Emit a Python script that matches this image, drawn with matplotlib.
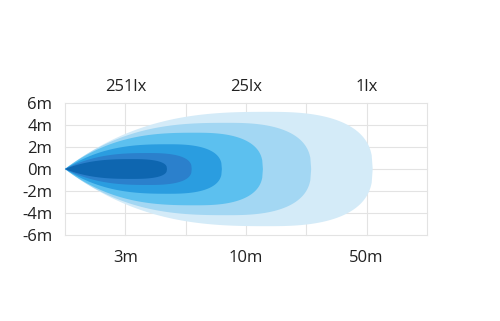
import matplotlib.pyplot as plt
import numpy as np

# beam pattern: lobes from outer (weakest) to inner (strongest)
lobe_reach = [5.1, 4.08, 3.28, 2.6, 2.1, 1.69]   # in grid columns from the lamp
lobe_halfwidth = [5.2, 4.2, 3.3, 2.25, 1.45, 0.9]  # metres
lobe_colors = ["#d4ebf8", "#a3d7f3", "#5cc0ef", "#2a9de0", "#2b80cc", "#0e66b0"]

dist_pos = [1, 3, 5]
dist_labels = ["3m", "10m", "50m"]
lux_labels = ["251lx", "25lx", "1lx"]
y_ticks = [6, 4, 2, 0, -2, -4, -6]


def lobe_outline(reach, halfwidth, a=0.66, n=2.6):
    t = np.linspace(0, 1, 300)
    g = np.where(t < a,
                 1 - np.abs(1 - t / a) ** 2.7,
                 np.clip(1 - ((t - a) / (1 - a)) ** n, 0, 1) ** (1 / n))
    x = t * reach
    y = halfwidth * g
    return np.concatenate([x, x[::-1]]), np.concatenate([y, -y[::-1]])


fig = plt.figure(figsize=(5, 3.21), dpi=100)
ax = fig.add_axes([0.13, 0.268, 0.724, 0.411])

for reach, hw, c in zip(lobe_reach, lobe_halfwidth, lobe_colors):
    xs, ys = lobe_outline(reach, hw)
    ax.fill(xs, ys, color=c, lw=0, zorder=2)

# grid, edges included
for gx in range(7):
    ax.axvline(gx, color="#e3e3e3", lw=0.8, zorder=0, clip_on=False)
for gy in y_ticks:
    ax.axhline(gy, color="#e3e3e3", lw=0.8, zorder=0, clip_on=False)

ax.set_xlim(0, 6)
ax.set_ylim(-6, 6)
ax.set_xticks(dist_pos)
ax.set_xticklabels(dist_labels)
ax.set_yticks(y_ticks)
ax.set_yticklabels([f"{v}m" for v in y_ticks])
for s in ax.spines.values():
    s.set_visible(False)
ax.tick_params(length=0, labelsize=12, colors="#222222")
ax.tick_params(axis="x", pad=11)
ax.tick_params(axis="y", pad=9)
for lab in ax.get_xticklabels() + ax.get_yticklabels():
    lab.set_family("Open Sans")

top = ax.secondary_xaxis("top")
top.set_xticks(dist_pos)
top.set_xticklabels(lux_labels)
top.tick_params(length=0, labelsize=12, colors="#222222", pad=6)
for lab in top.get_xticklabels():
    lab.set_family("Open Sans")
for s in top.spines.values():
    s.set_visible(False)

plt.savefig("out.png", dpi=100)
plt.close(fig)
